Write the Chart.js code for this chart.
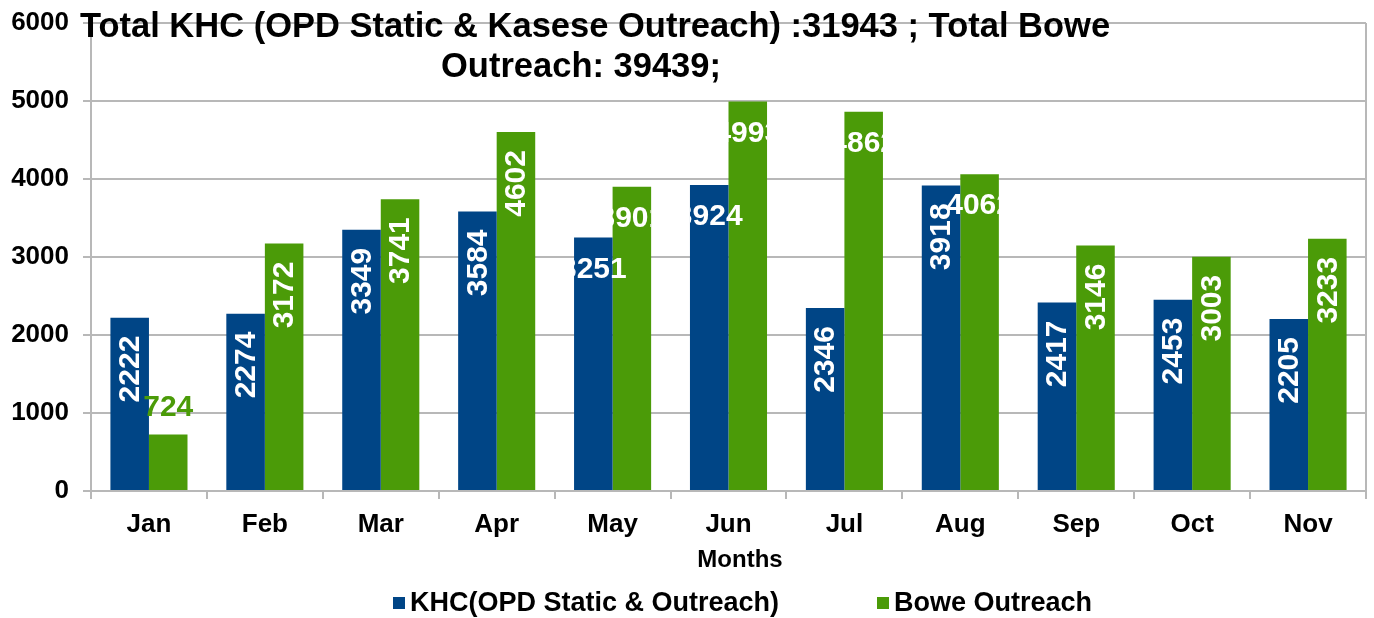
<!DOCTYPE html>
<html>
<head>
<meta charset="utf-8">
<script src="https://cdn.jsdelivr.net/npm/chart.js@4/dist/chart.umd.min.js"></script>
<style>
  html, body { margin: 0; padding: 0; background: #fff; }
  #wrap { width: 1374px; height: 618px; }
</style>
</head>
<body>
<div id="wrap"><canvas id="barChart" width="1374" height="618"></canvas></div>
<script>
var months = ["Jan", "Feb", "Mar", "Apr", "May", "Jun", "Jul", "Aug", "Sep", "Oct", "Nov"];
var khc = [2222, 2274, 3349, 3584, 3251, 3924, 2346, 3918, 2417, 2453, 2205];
var bowe = [724, 3172, 3741, 4602, 3901, 4993, 4862, 4062, 3146, 3003, 3233];
var yTicks = [0, 1000, 2000, 3000, 4000, 5000, 6000];

var titleLines = ["Total KHC (OPD Static & Kasese Outreach) :31943 ; Total Bowe", "Outreach: 39439;"];
var seriesNames = ["KHC(OPD Static & Outreach)", "Bowe Outreach"];
var colors = ["#004586", "#4b9b08"];

// bars whose labels came out flat (not rotated) in the original
var flatLabels = [[4, 5], [4, 5, 6, 7]];
var outsideLabels = [[], [0]];

var gridColor = "#b8b8b8";
var font = "'Liberation Sans', Arial, sans-serif";

// draws title, value labels, axis title, legend and the right border
var extras = {
  id: "extras",
  afterDatasetsDraw: function (chart) {
    var ctx = chart.ctx;
    var area = chart.chartArea;
    ctx.save();

    // right border of plot
    ctx.strokeStyle = gridColor;
    ctx.lineWidth = 2;
    ctx.beginPath();
    ctx.moveTo(area.right, area.top);
    ctx.lineTo(area.right, area.bottom);
    ctx.stroke();

    ctx.font = "bold 30px " + font;
    chart.data.datasets.forEach(function (ds, i) {
      var meta = chart.getDatasetMeta(i);
      meta.data.forEach(function (bar, j) {
        var txt = String(ds.data[j]);
        if (outsideLabels[i].indexOf(j) >= 0) {
          ctx.fillStyle = colors[i];
          ctx.textAlign = "center";
          ctx.textBaseline = "middle";
          ctx.fillText(txt, bar.x, bar.y - 27);
        } else if (flatLabels[i].indexOf(j) >= 0) {
          // clip to the category group
          var b0 = chart.getDatasetMeta(0).data[j];
          var b1 = chart.getDatasetMeta(1).data[j];
          var gl = b0.x - b0.width / 2;
          var gr = b1.x + b1.width / 2;
          ctx.save();
          ctx.beginPath();
          ctx.rect(gl, area.top, gr - gl, area.bottom - area.top);
          ctx.clip();
          ctx.fillStyle = "#fff";
          ctx.textAlign = "center";
          ctx.textBaseline = "middle";
          ctx.fillText(txt, bar.x, bar.y + 32);
          ctx.restore();
        } else {
          ctx.save();
          ctx.translate(bar.x + 1, bar.y + 18);
          ctx.rotate(-Math.PI / 2);
          ctx.fillStyle = "#fff";
          ctx.textAlign = "right";
          ctx.textBaseline = "middle";
          ctx.fillText(txt, 0, 0);
          ctx.restore();
        }
      });
    });

    // title
    ctx.fillStyle = "#000";
    ctx.textAlign = "center";
    ctx.textBaseline = "alphabetic";
    ctx.font = "bold 34.5px " + font;
    ctx.fillText(titleLines[0], 595, 37);
    ctx.fillText(titleLines[1], 581, 77);

    // axis title
    ctx.font = "bold 24px " + font;
    ctx.textBaseline = "middle";
    ctx.fillText("Months", 740, 560);

    // legend
    var legendX = [393, 877];
    ctx.font = "bold 27px " + font;
    ctx.textAlign = "left";
    seriesNames.forEach(function (name, i) {
      ctx.fillStyle = colors[i];
      ctx.fillRect(legendX[i], 597, 12, 12);
      ctx.fillStyle = "#000";
      ctx.fillText(name, legendX[i] + 17, 604);
    });
    ctx.restore();
  }
};

var data = {
  labels: months,
  datasets: [
    {
      label: seriesNames[0],
      data: khc,
      backgroundColor: colors[0],
      categoryPercentage: 0.665,
      barPercentage: 1.0,
    },
    {
      label: seriesNames[1],
      data: bowe,
      backgroundColor: colors[1],
      categoryPercentage: 0.665,
      barPercentage: 1.0,
    },
  ],
};

var options = {
  responsive: false,
  animation: false,
  layout: { padding: { top: 23, right: 8, left: 0, bottom: 0 } },
  plugins: {
    legend: { display: false },
    title: { display: false },
    tooltip: { enabled: false },
  },
  scales: {
    x: {
      grid: {
        drawOnChartArea: false,
        color: gridColor,
        lineWidth: 2,
        tickLength: 8,
        offset: true,
      },
      border: { color: gridColor, width: 2 },
      ticks: {
        color: "#000",
        padding: 10,
        font: { family: font, size: 26, weight: "bold" },
      },
      afterFit: function (scale) {
        scale.height = 127;
        scale.paddingLeft = 0;
        scale.paddingRight = 0;
      },
    },
    y: {
      min: 0,
      max: 6000,
      afterBuildTicks: function (scale) {
        scale.ticks = yTicks.map(function (v) { return { value: v }; });
      },
      grid: {
        color: gridColor,
        lineWidth: 2,
        tickLength: 8,
      },
      border: { color: gridColor, width: 2 },
      ticks: {
        color: "#000",
        padding: 14,
        font: { family: font, size: 26, weight: "bold" },
        callback: function (v) { return String(v); },
      },
      afterFit: function (scale) {
        scale.width = 91;
        scale.paddingTop = 0;
        scale.paddingBottom = 0;
      },
    },
  },
};

var barChart = new Chart(document.getElementById("barChart"), {
  type: "bar",
  data: data,
  options: options,
  plugins: [extras],
});
</script>
</body>
</html>
